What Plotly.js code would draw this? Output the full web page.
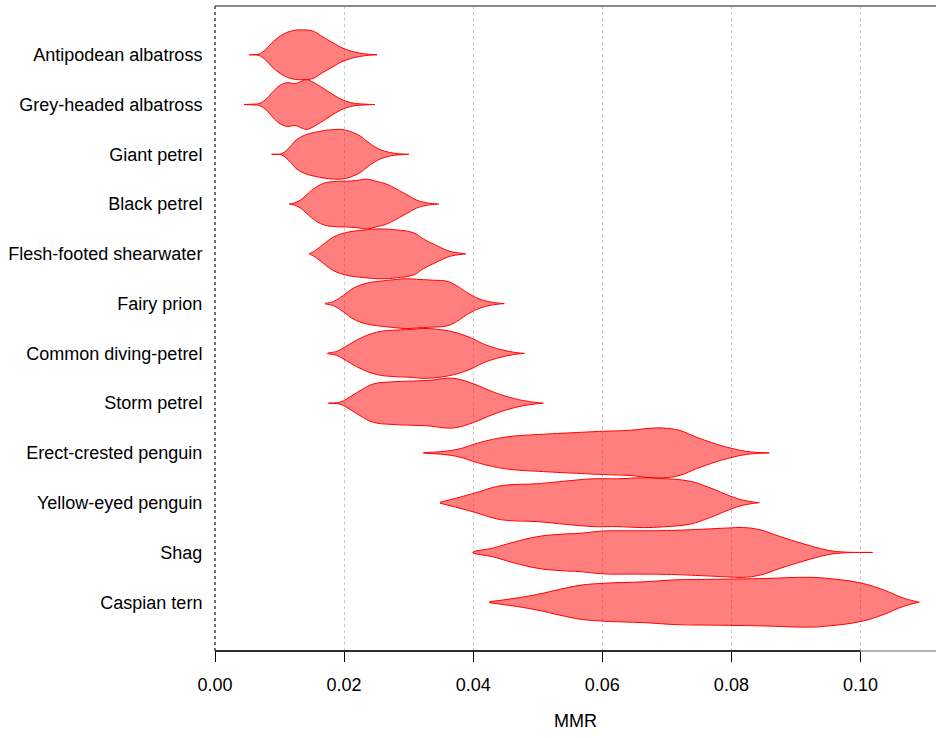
<!DOCTYPE html>
<html>
<head>
<meta charset="utf-8">
<script src="https://cdn.plot.ly/plotly-3.0.1.min.js"></script>
<style>html,body{margin:0;padding:0;background:#fff;}#chart{width:936px;height:738px;}</style>
</head>
<body>
<div id="chart"></div>
<script>
// Species, top to bottom
const species = ["Antipodean albatross","Grey-headed albatross","Giant petrel","Black petrel",
  "Flesh-footed shearwater","Fairy prion","Common diving-petrel","Storm petrel",
  "Erect-crested penguin","Yellow-eyed penguin","Shag","Caspian tern"];

// Density outlines: MMR positions and relative density (0..1)
const antipodeanX = [0.00531,0.00666,0.00744,0.00899,0.01053,0.01208,0.01348,0.01518,0.01673,0.01828,0.01983,0.02200,0.02355,0.02510];
const antipodeanD = [0,0.02,0.12,0.52,0.82,0.97,1.0,0.95,0.71,0.48,0.26,0.09,0.03,0];

const greyHeadedX = [0.00449,0.00620,0.00697,0.00806,0.00899,0.01007,0.01131,0.01239,0.01348,0.01425,0.01518,0.01673,0.01828,0.01983,0.02138,0.02293,0.02479];
const greyHeadedD = [0,0.02,0.05,0.25,0.52,0.77,0.88,0.84,0.95,1.0,0.9,0.66,0.4,0.18,0.06,0.02,0];

const giantPetrelX = [0.00878,0.01033,0.01162,0.01270,0.01425,0.01580,0.01735,0.01890,0.01983,0.02091,0.02246,0.02355,0.02510,0.02665,0.02820,0.03005];
const giantPetrelD = [0,0.03,0.3,0.6,0.8,0.9,0.97,1.0,0.99,0.92,0.74,0.52,0.25,0.1,0.03,0];

const blackPetrelX = [0.01151,0.01208,0.01317,0.01421,0.01523,0.01678,0.01885,0.02040,0.02195,0.02350,0.02505,0.02660,0.02815,0.02970,0.03125,0.03280,0.03466];
const blackPetrelD = [0,0.03,0.15,0.38,0.6,0.83,0.91,0.92,0.95,1.0,0.91,0.8,0.6,0.38,0.16,0.05,0];

const fleshFootedX = [0.01461,0.01523,0.01678,0.01833,0.02040,0.02297,0.02556,0.02815,0.03072,0.03227,0.03435,0.03641,0.03796,0.03884];
const fleshFootedD = [0,0.08,0.38,0.67,0.86,0.95,1.0,0.96,0.85,0.6,0.33,0.1,0.03,0];

const fairyPrionX = [0.01704,0.01833,0.01988,0.02143,0.02350,0.02556,0.02762,0.02970,0.03176,0.03382,0.03589,0.03744,0.03899,0.04105,0.04311,0.04482];
const fairyPrionD = [0,0.08,0.33,0.62,0.82,0.9,0.96,1.0,0.97,0.94,0.9,0.72,0.45,0.18,0.05,0];

const divingPetrelX = [0.01740,0.01885,0.02040,0.02246,0.02505,0.02762,0.03021,0.03227,0.03435,0.03692,0.03950,0.04157,0.04364,0.04621,0.04792];
const divingPetrelD = [0,0.08,0.3,0.6,0.85,0.93,0.96,1.0,0.97,0.86,0.64,0.38,0.2,0.05,0];

const stormPetrelX = [0.01755,0.01936,0.02040,0.02246,0.02452,0.02711,0.03072,0.03331,0.03589,0.03744,0.04002,0.04311,0.04570,0.04829,0.05086];
const stormPetrelD = [0,0.04,0.17,0.5,0.77,0.85,0.89,0.92,1.0,0.98,0.78,0.45,0.23,0.08,0];

const erectCrestedX = [0.03227,0.03537,0.03796,0.04002,0.04260,0.04570,0.05086,0.05603,0.06015,0.06429,0.06739,0.06945,0.07204,0.07462,0.07772,0.07978,0.08237,0.08587];
const erectCrestedD = [0,0.06,0.17,0.34,0.52,0.66,0.75,0.82,0.87,0.91,0.99,1.0,0.9,0.63,0.35,0.2,0.06,0];

const yellowEyedX = [0.03486,0.03641,0.04002,0.04364,0.04570,0.04984,0.05396,0.05861,0.06223,0.06635,0.06945,0.07359,0.07668,0.07978,0.08184,0.08432];
const yellowEyedD = [0.02,0.12,0.37,0.65,0.72,0.76,0.86,0.96,0.96,1.0,0.97,0.86,0.6,0.27,0.1,0];

const shagX = [0.03992,0.04311,0.04621,0.04984,0.05345,0.05655,0.06015,0.06480,0.06998,0.07514,0.07927,0.08184,0.08443,0.08753,0.09114,0.09476,0.09733,0.10189];
const shagD = [0,0.18,0.41,0.63,0.73,0.77,0.86,0.87,0.88,0.93,0.98,1.0,0.91,0.64,0.35,0.1,0.02,0];

const caspianX = [0.04249,0.04570,0.04984,0.05345,0.05655,0.06015,0.06635,0.07153,0.07668,0.08443,0.09218,0.09476,0.09992,0.10353,0.10663,0.10911];
const caspianD = [0.02,0.13,0.31,0.52,0.68,0.76,0.82,0.9,0.92,0.95,1.0,0.96,0.78,0.5,0.17,0];

const xTickVals = [0,0.02,0.04,0.06,0.08,0.10];
const xTickText = ["0.00","0.02","0.04","0.06","0.08","0.10"];

const outlines = [
  [antipodeanX, antipodeanD],[greyHeadedX, greyHeadedD],[giantPetrelX, giantPetrelD],[blackPetrelX, blackPetrelD],
  [fleshFootedX, fleshFootedD],[fairyPrionX, fairyPrionD],[divingPetrelX, divingPetrelD],[stormPetrelX, stormPetrelD],
  [erectCrestedX, erectCrestedD],[yellowEyedX, yellowEyedD],[shagX, shagD],[caspianX, caspianD]
];

const n = species.length;
const halfWidth = 0.5;
const traces = outlines.map(function(o, i){
  const xs = o[0], ds = o[1];
  const yc = n - i;
  const x = xs.concat(xs.slice().reverse());
  const top = ds.map(d => yc + halfWidth*d);
  const bot = ds.map(d => yc - halfWidth*d).reverse();
  return {
    type:'scatter', mode:'lines', x:x, y:top.concat(bot),
    fill:'toself', fillcolor:'rgba(255,0,0,0.5)',
    line:{color:'#ff0000', width:1, shape:'spline', smoothing:1.2},
    hoverinfo:'skip', showlegend:false
  };
});

const tickVals = species.map((s,i)=> n - i);
const font = {family:'"Liberation Sans", Arial, sans-serif', size:18, color:'#000'};

const layout = {
  width:936, height:738,
  margin:{l:215, r:0, t:6, b:87},
  paper_bgcolor:'#fff', plot_bgcolor:'#fff',
  font:font,
  showlegend:false,
  xaxis:{
    range:[0,0.1117], tickvals:xTickVals, ticktext:xTickText,
    showgrid:true, gridcolor:'#c8c8c8', griddash:'dot', gridwidth:1,
    zeroline:false, showline:false,
    ticks:'outside', ticklen:10, tickcolor:'#000', tickwidth:1,
    ticklabelstandoff:7,
    tickfont:font,
    title:{text:'MMR', font:font, standoff:20}
  },
  yaxis:{
    range:[0.02,12.98], tickvals:tickVals, ticktext:species,
    showgrid:false, zeroline:false, showline:false,
    ticks:'outside', ticklen:8, tickcolor:'rgba(0,0,0,0)',
    tickfont:font
  },
  shapes:[
    {type:'line', xref:'paper', yref:'paper', x0:0, x1:1, y0:1, y1:1, line:{color:'#888', width:2}},
    {type:'line', xref:'paper', yref:'paper', x0:0, x1:1, y0:0, y1:0, line:{color:'#999', width:1.5}},
    {type:'line', xref:'x', yref:'paper', x0:0, x1:0.10, y0:0, y1:0, line:{color:'#000', width:1.5}},
    {type:'line', xref:'paper', yref:'paper', x0:0, x1:0, y0:0, y1:1, line:{color:'#444', width:1.5, dash:'dot'}}
  ]
};

Plotly.newPlot('chart', traces, layout, {displayModeBar:false, staticPlot:true});
</script>
</body>
</html>
